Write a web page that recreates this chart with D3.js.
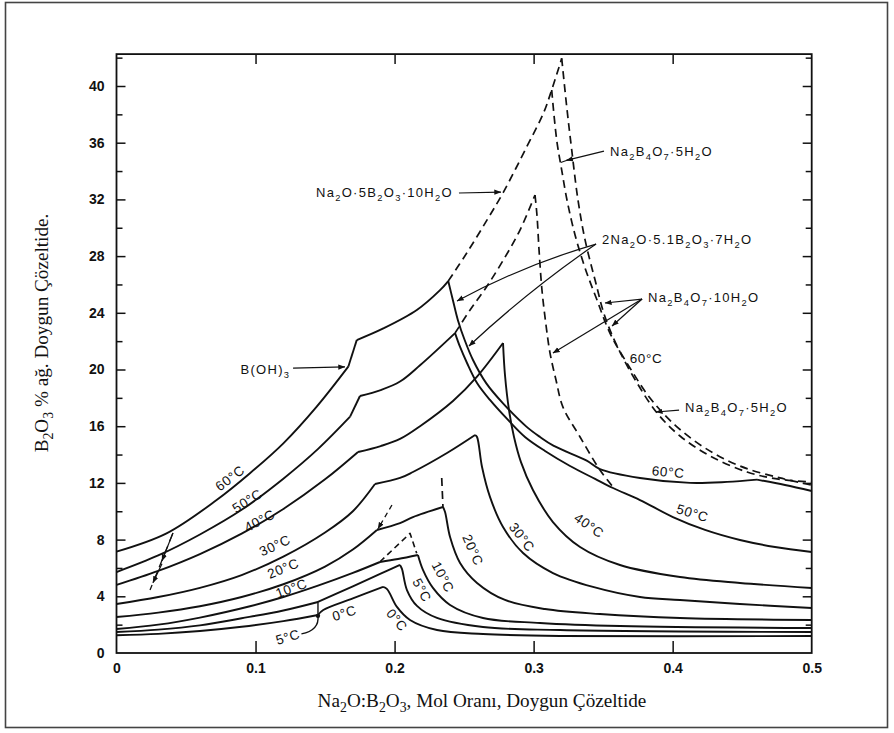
<!DOCTYPE html>
<html>
<head>
<meta charset="utf-8">
<script src="https://cdn.jsdelivr.net/npm/d3@7"></script>
<style>
  body { margin: 0; background: #fff; }
  svg { display: block; }
</style>
</head>
<body>
<svg id="chart" width="894" height="733"></svg>
<script>
// ---------------- Data: Na2O–B2O3–H2O solubility isotherms ----------------
// x = Na2O:B2O3 mole ratio, y = B2O3 wt % in saturated solution

const xTickValues = [0, 0.1, 0.2, 0.3, 0.4, 0.5];
const xTickLabels = ["0", "0.1", "0.2", "0.3", "0.4", "0.5"];
const yLabelTicks = [0, 4, 8, 12, 16, 20, 24, 28, 32, 36, 40];
const yMinorTicks = [2, 6, 10, 14, 18, 22, 26, 30, 34, 38, 42];

// 60 °C
const iso60Boh3   = [[0, 7.15], [0.036, 8.44], [0.072, 10.79], [0.096, 12.68], [0.12, 14.79], [0.144, 17.38], [0.1667, 20.2]];
const iso60Step   = [[0.1667, 20.2], [0.1728, 22.08]];
const iso60Penta  = [[0.1728, 22.08], [0.1919, 22.9], [0.216, 24.2], [0.2327, 25.6], [0.2386, 26.24]];
const iso60Desc   = [[0.2386, 26.24], [0.242, 24.87], [0.2456, 23.46], [0.2504, 22.08], [0.2564, 20.67], [0.266, 19.02],
                     [0.278, 17.61], [0.2948, 15.97], [0.3046, 15.24], [0.3142, 14.63], [0.3382, 13.57], [0.3477, 12.98],
                     [0.3765, 12.35], [0.4125, 12.0], [0.4391, 12.07], [0.4607, 12.23]];
const iso60Tail   = [[0.4607, 12.23], [0.4808, 11.85], [0.5, 11.43]];
const iso60PentaMeta = [[0.2386, 26.24], [0.2518, 28.2], [0.2662, 30.5], [0.2782, 32.5], [0.295, 35.7], [0.307, 38.07], [0.313, 39.72], [0.3202, 41.95]];
const iso60DecaMeta  = [[0.313, 39.72], [0.3166, 36.19], [0.3202, 34.07], [0.324, 31.96], [0.3298, 29.49], [0.337, 27.16],
                        [0.3456, 24.9], [0.3549, 22.57], [0.3693, 20.11], [0.3837, 17.99], [0.4017, 16.08], [0.4233, 14.46],
                        [0.4484, 13.19], [0.4772, 12.35], [0.5, 11.85]];
const iso60PentahydMeta = [[0.3202, 41.95], [0.3238, 38.54], [0.3274, 35.49], [0.3319, 31.96], [0.337, 29.14], [0.3442, 26.31],
                           [0.3514, 23.7], [0.3614, 21.38], [0.3744, 19.05], [0.3888, 16.93], [0.4053, 15.31], [0.4269, 13.9],
                           [0.4535, 12.77], [0.4751, 12.28], [0.5, 12.06]];

// 50 °C
const iso50Boh3   = [[0, 5.71], [0.03, 6.88], [0.06, 8.36], [0.09, 10.1], [0.12, 12.3], [0.145, 14.4], [0.168, 16.67]];
const iso50Step   = [[0.168, 16.67], [0.1751, 18.13]];
const iso50Penta  = [[0.1751, 18.13], [0.19, 18.55], [0.2039, 19.15], [0.2183, 20.3], [0.2435, 22.57]];
const iso50Desc   = [[0.2435, 22.57], [0.2471, 21.59], [0.2521, 20.46], [0.2593, 19.05], [0.2686, 17.85], [0.2816, 16.44],
                     [0.2938, 15.24], [0.3082, 14.25], [0.3262, 13.19], [0.3442, 12.28], [0.3571, 11.64], [0.3765, 10.79],
                     [0.4002, 9.59], [0.4233, 8.68], [0.4484, 7.97], [0.4736, 7.48], [0.5, 7.13]];
const iso50PentaMeta = [[0.2435, 22.57], [0.2543, 24.2], [0.2662, 25.84], [0.2782, 27.72], [0.2902, 29.84], [0.301, 32.31]];
const iso50DecaMeta  = [[0.301, 32.31], [0.3024, 30.9], [0.3039, 28.43], [0.306, 25.61], [0.3089, 23.14], [0.3118, 21.16],
                        [0.3161, 19.26], [0.3211, 17.35], [0.3334, 15.24], [0.3477, 12.91], [0.3571, 11.71]];

// 40 °C
const iso40Boh3  = [[0, 4.8], [0.03, 5.79], [0.06, 6.98], [0.09, 8.42], [0.12, 10.16], [0.15, 12.25], [0.1737, 14.18]];
const iso40Penta = [[0.1737, 14.18], [0.19, 14.6], [0.2039, 15.1], [0.2183, 16.0], [0.242, 17.78], [0.2593, 19.5], [0.278, 21.87]];
const iso40Desc  = [[0.278, 21.87], [0.2794, 19.61], [0.2823, 17.14], [0.2859, 15.24], [0.2909, 13.47], [0.2995, 11.5],
                    [0.3139, 9.24], [0.3334, 7.48], [0.3621, 6.21], [0.4053, 5.36], [0.4484, 4.94], [0.5, 4.59]];

// 30 °C
const iso30Boh3  = [[0, 3.46], [0.03, 3.95], [0.06, 4.6], [0.09, 5.5], [0.12, 6.8], [0.15, 8.5], [0.17, 10.0], [0.1859, 11.92]];
const iso30Penta = [[0.1859, 11.92], [0.2039, 12.35], [0.2132, 12.77], [0.2377, 14.11], [0.2579, 15.38]];
const iso30Desc  = [[0.2579, 15.38], [0.2593, 15.24], [0.2629, 13.12], [0.2686, 11.01], [0.278, 8.89], [0.2924, 7.05],
                    [0.3139, 5.64], [0.3427, 4.66], [0.3765, 3.95], [0.4053, 3.74], [0.4484, 3.46], [0.5, 3.17]];

// 20 °C
const iso20Boh3  = [[0, 2.54], [0.03, 2.85], [0.06, 3.3], [0.09, 3.95], [0.12, 4.85], [0.15, 6.1], [0.17, 7.3], [0.1873, 8.68]];
const iso20Penta = [[0.1873, 8.68], [0.2039, 9.17], [0.2132, 9.59], [0.2348, 10.3]];
const iso20Desc  = [[0.2348, 10.3], [0.2363, 9.95], [0.2399, 8.18], [0.2471, 6.35], [0.2593, 4.94], [0.2794, 3.74],
                    [0.3082, 3.1], [0.3477, 2.75], [0.4053, 2.47], [0.5, 2.33]];
const iso20DecaMeta = [[0.2339, 12.35], [0.2348, 10.3]];

// 10 °C
const iso10Boh3  = [[0, 1.69], [0.03, 2.0], [0.06, 2.5], [0.096, 3.3], [0.12, 3.95], [0.1449, 4.75], [0.17, 5.65], [0.1895, 6.42]];
const iso10Penta = [[0.1895, 6.42], [0.2025, 6.63], [0.2168, 6.91]];
const iso10Desc  = [[0.2168, 6.91], [0.2204, 5.86], [0.2276, 4.59], [0.2399, 3.39], [0.2636, 2.47], [0.3046, 2.12],
                    [0.3621, 1.9], [0.5, 1.76]];
const iso10Meta  = [[0.1895, 6.44], [0.2111, 8.44], [0.2159, 7.03]];

// 5 °C
const iso5Boh3  = [[0, 1.48], [0.03, 1.65], [0.06, 1.95], [0.09, 2.45], [0.12, 3.0], [0.1449, 3.6]];
const iso5Penta = [[0.1449, 3.6], [0.17, 4.7], [0.19, 5.6], [0.2039, 6.21]];
const iso5Desc  = [[0.2039, 6.21], [0.2053, 5.93], [0.2089, 4.44], [0.2161, 3.32], [0.2305, 2.47], [0.2636, 1.83],
                   [0.319, 1.62], [0.5, 1.48]];

// 0 °C
const iso0Boh3  = [[0, 1.25], [0.03, 1.35], [0.06, 1.55], [0.09, 1.85], [0.12, 2.25], [0.1449, 2.68]];
const iso0Penta = [[0.1449, 2.68], [0.1487, 3.03], [0.17, 3.85], [0.1917, 4.66]];
const iso0Desc  = [[0.1917, 4.66], [0.1946, 4.51], [0.2017, 3.25], [0.2111, 2.33], [0.2305, 1.62], [0.2636, 1.34],
                   [0.319, 1.2], [0.5, 1.2]];

// ---------------- Layout ----------------
const svg = d3.select("#chart");
const x = d3.scaleLinear().domain([0, 0.5]).range([116.5, 811.7]);
const y = d3.scaleLinear().domain([0, 40]).range([653, 86]);
const yMax = 42.25;

const SANS = "'Liberation Sans', Arial, sans-serif";
const SERIF = "'Liberation Serif', 'Times New Roman', serif";
const INK = "#111";

// arrowhead marker
const defs = svg.append("defs");
defs.append("marker")
  .attr("id", "arrow").attr("viewBox", "0 0 10 10")
  .attr("refX", 9.5).attr("refY", 5)
  .attr("markerWidth", 7).attr("markerHeight", 7)
  .attr("markerUnits", "userSpaceOnUse")
  .attr("orient", "auto")
  .append("path").attr("d", "M0,1.2 L10,5 L0,8.8 Z").attr("fill", INK);

// outer border
svg.append("rect")
  .attr("x", 5.5).attr("y", 2.5).attr("width", 882).attr("height", 725)
  .attr("fill", "none").attr("stroke", "#444").attr("stroke-width", 1.6);

// ---------------- Axes ----------------
const axisText = g => g.selectAll("text")
  .attr("font-family", SANS).attr("font-size", 14).attr("font-weight", "bold").attr("fill", INK);
const axisLines = g => g.selectAll("line").attr("stroke", INK).attr("stroke-width", 1.5);
const noDomain = g => g.select(".domain").remove();

// left
svg.append("g").attr("transform", `translate(${x(0)},0)`)
  .call(d3.axisLeft(y).tickValues(yLabelTicks).tickSize(-9).tickPadding(12).tickFormat(d3.format("d")))
  .call(noDomain).call(axisLines).call(axisText)
  .call(g => g.selectAll(".tick").filter(d => d === 0).select("line").remove());
svg.append("g").attr("transform", `translate(${x(0)},0)`)
  .call(d3.axisLeft(y).tickValues(yMinorTicks.filter(v => v < yMax)).tickSize(-6).tickFormat(""))
  .call(noDomain).call(axisLines);

// right
svg.append("g").attr("transform", `translate(${x(0.5)},0)`)
  .call(d3.axisRight(y).tickValues(yLabelTicks.filter(v => v > 0)).tickSize(-9).tickFormat(""))
  .call(noDomain).call(axisLines);
svg.append("g").attr("transform", `translate(${x(0.5)},0)`)
  .call(d3.axisRight(y).tickValues(yMinorTicks.filter(v => v < yMax)).tickSize(-6).tickFormat(""))
  .call(noDomain).call(axisLines);

// top
svg.append("g").attr("transform", `translate(0,${y(yMax)})`)
  .call(d3.axisTop(x).tickValues(xTickValues.slice(1, -1)).tickSize(-10).tickFormat(""))
  .call(noDomain).call(axisLines);

// bottom: inner ticks and labels
svg.append("g").attr("transform", `translate(0,${y(0)})`)
  .call(d3.axisBottom(x).tickValues(xTickValues.slice(1, -1)).tickSize(-12).tickFormat(""))
  .call(noDomain).call(axisLines);
svg.append("g").attr("transform", `translate(0,${y(0)})`)
  .call(d3.axisBottom(x).tickValues(xTickValues).tickSize(0).tickPadding(10)
        .tickFormat((d, i) => xTickLabels[i]))
  .call(noDomain).call(axisText);

// frame
svg.append("rect")
  .attr("x", x(0)).attr("y", y(yMax))
  .attr("width", x(0.5) - x(0)).attr("height", y(0) - y(yMax))
  .attr("fill", "none").attr("stroke", INK).attr("stroke-width", 1.8);

// ---------------- Titles ----------------
function richText(sel, str, shift) {
  // "{n}" marks a subscript
  const s = shift || 3.5;
  const parts = str.split(/(\{[^}]*\})/).filter(p => p.length);
  let down = false;
  parts.forEach(p => {
    if (p[0] === "{") {
      sel.append("tspan").attr("dy", down ? 0 : s).attr("font-size", "0.72em").text(p.slice(1, -1));
      down = true;
    } else {
      const t = sel.append("tspan").text(p);
      if (down) { t.attr("dy", -s); down = false; }
    }
  });
  return sel;
}

svg.append("text")
  .attr("x", 482).attr("y", 707).attr("text-anchor", "middle")
  .attr("font-family", SERIF).attr("font-size", 19.2).attr("fill", INK)
  .call(richText, "Na{2}O:B{2}O{3}, Mol Oranı, Doygun Çözeltide", 4.5);

svg.append("text")
  .attr("transform", "translate(48,333) rotate(-90)").attr("text-anchor", "middle")
  .attr("font-family", SERIF).attr("font-size", 19.2).attr("fill", INK)
  .call(richText, "B{2}O{3} % ağ. Doygun Çözeltide.", 4.5);

// ---------------- Isotherm curves ----------------
const smooth = d3.line().x(d => x(d[0])).y(d => y(d[1])).curve(d3.curveCatmullRom.alpha(0.5));
const straight = d3.line().x(d => x(d[0])).y(d => y(d[1]));

const plot = svg.append("g").attr("fill", "none").attr("stroke", INK).attr("stroke-linejoin", "round");

const solidSmooth = [
  iso60Boh3, iso60Penta, iso60Desc, iso60Tail,
  iso50Boh3, iso50Penta, iso50Desc,
  iso40Boh3, iso40Penta, iso40Desc,
  iso30Boh3, iso30Penta, iso30Desc,
  iso20Boh3, iso20Penta, iso20Desc,
  iso10Boh3, iso10Penta, iso10Desc,
  iso5Boh3, iso5Penta, iso5Desc,
  iso0Boh3, iso0Penta, iso0Desc
];
const solidStraight = [iso60Step, iso50Step];
const dashed = [iso60PentaMeta, iso60DecaMeta, iso60PentahydMeta, iso50PentaMeta, iso50DecaMeta, iso20DecaMeta];
const dashedStraight = [iso10Meta];

plot.selectAll("path.solid").data(solidSmooth).join("path")
  .attr("class", "solid").attr("d", smooth).attr("stroke-width", 1.9);
plot.selectAll("path.step").data(solidStraight).join("path")
  .attr("class", "step").attr("d", straight).attr("stroke-width", 1.9);
plot.selectAll("path.meta").data(dashed).join("path")
  .attr("class", "meta").attr("d", smooth).attr("stroke-width", 1.7).attr("stroke-dasharray", "8,5");
plot.selectAll("path.meta2").data(dashedStraight).join("path")
  .attr("class", "meta2").attr("d", straight).attr("stroke-width", 1.6).attr("stroke-dasharray", "6,4");

// ---------------- Annotations ----------------
const ann = svg.append("g");

// temperature label, nudged `off` px along the text's upward normal
function label(txt, xv, yv, angle, off) {
  const a = (angle || 0) * Math.PI / 180, o = off || 0;
  const px = x(xv) + Math.sin(a) * o, py = y(yv) - Math.cos(a) * o;
  ann.append("text")
    .attr("transform", `translate(${px},${py}) rotate(${angle || 0})`)
    .attr("text-anchor", "middle").attr("dy", "0.35em")
    .attr("font-family", SANS).attr("font-size", 13.5).attr("letter-spacing", 0.6)
    .attr("fill", INK).text(txt);
}
function formulaLabel(str, xv, yv, anchor) {
  ann.append("text")
    .attr("x", x(xv)).attr("y", y(yv)).attr("dy", "0.3em")
    .attr("text-anchor", anchor || "start")
    .attr("font-family", SANS).attr("font-size", 13).attr("letter-spacing", 1.3)
    .attr("fill", INK).call(richText, str, 3.8);
}
function arrow(p0, p1, bend) {
  const a = [x(p0[0]), y(p0[1])], b = [x(p1[0]), y(p1[1])];
  const path = d3.path();
  path.moveTo(a[0], a[1]);
  if (bend) {
    const mx = (a[0] + b[0]) / 2, my = (a[1] + b[1]) / 2;
    const dx = b[0] - a[0], dy = b[1] - a[1], len = Math.hypot(dx, dy);
    path.quadraticCurveTo(mx - dy / len * bend, my + dx / len * bend, b[0], b[1]);
  } else path.lineTo(b[0], b[1]);
  ann.append("path").attr("d", path.toString()).attr("fill", "none")
    .attr("stroke", INK).attr("stroke-width", 1.2).attr("marker-end", "url(#arrow)");
}

// isotherm temperatures on the rising branches
label("60°C", 0.0838, 12.06, -37, 5);
label("50°C", 0.096, 10.44, -32, 5);
label("40°C", 0.1046, 9.03, -28, 5);
label("30°C", 0.1154, 7.27, -25, 5);
label("20°C", 0.1212, 5.64, -22, 5);
label("10°C", 0.127, 4.23, -20, 5);
label("0°C", 0.1643, 2.68, -17, 2);
label("5°C", 0.1233, 1.13, -17, 0);
// temperatures on the descending branches
label("0°C", 0.2017, 2.33, 50);
label("5°C", 0.2197, 4.44, 62);
label("10°C", 0.2348, 5.36, 62);
label("20°C", 0.2564, 7.27, 66);
label("30°C", 0.2916, 8.18, 52);
label("40°C", 0.3391, 8.89, 35, 2);
label("50°C", 0.4139, 9.74, 17, 2);
label("60°C", 0.3967, 12.7, 5, 1);
label("60°C", 0.3808, 20.81, 0);

// solid phases
formulaLabel("B(OH){3}", 0.125, 19.96, "end");
arrow([0.127, 20.1], [0.1643, 20.18]);

formulaLabel("Na{2}O·5B{2}O{3}·10H{2}O", 0.242, 32.45, "end");
arrow([0.2463, 32.45], [0.2765, 32.52]);

formulaLabel("Na{2}B{4}O{7}·5H{2}O", 0.3549, 35.34);
arrow([0.3506, 35.41], [0.3235, 34.75]);
ann.append("path").attr("d", straight([[0.3195, 34.6], [0.3282, 34.9]]))
  .attr("stroke", INK).attr("stroke-width", 1.2).attr("fill", "none");

formulaLabel("2Na{2}O·5.1B{2}O{3}·7H{2}O", 0.3492, 29.14);
arrow([0.3449, 28.85], [0.2449, 24.83], 8);
arrow([0.3449, 28.85], [0.2535, 21.66], 6);

formulaLabel("Na{2}B{4}O{7}·10H{2}O", 0.3823, 25.04);
arrow([0.378, 24.97], [0.3513, 24.69]);
arrow([0.378, 24.97], [0.3564, 23.07]);
arrow([0.378, 24.97], [0.3139, 21.16]);

formulaLabel("Na{2}B{4}O{7}·5H{2}O", 0.4089, 17.28);
arrow([0.4046, 17.14], [0.388, 17.0]);

// small guide marks on the low-temperature branches
ann.append("path").attr("d", straight([[0.0406, 8.47], [0.0241, 4.44]]))
  .attr("stroke", INK).attr("stroke-width", 1.3).attr("fill", "none").attr("stroke-dasharray", "9,5");
arrow([0.0406, 8.47], [0.0327, 6.5]);
arrow([0.0327, 6.3], [0.0262, 4.95]);
ann.append("path").attr("d", straight([[0.1981, 10.44], [0.188, 8.75]]))
  .attr("stroke", INK).attr("stroke-width", 1.3).attr("fill", "none").attr("stroke-dasharray", "5,4")
  .attr("marker-end", "url(#arrow)");
ann.append("path").attr("d", straight([[0.1449, 3.67], [0.1449, 2.54]]))
  .attr("stroke", INK).attr("stroke-width", 1.4).attr("fill", "none");
const hook = d3.path();
hook.moveTo(x(0.133), y(1.35));
hook.quadraticCurveTo(x(0.146), y(1.6), x(0.1449), y(2.62));
ann.append("path").attr("d", hook.toString()).attr("stroke", INK).attr("stroke-width", 1.4).attr("fill", "none");
ann.append("circle").attr("cx", x(0.1449)).attr("cy", y(2.62)).attr("r", 2.2).attr("fill", INK);
</script>
</body>
</html>
